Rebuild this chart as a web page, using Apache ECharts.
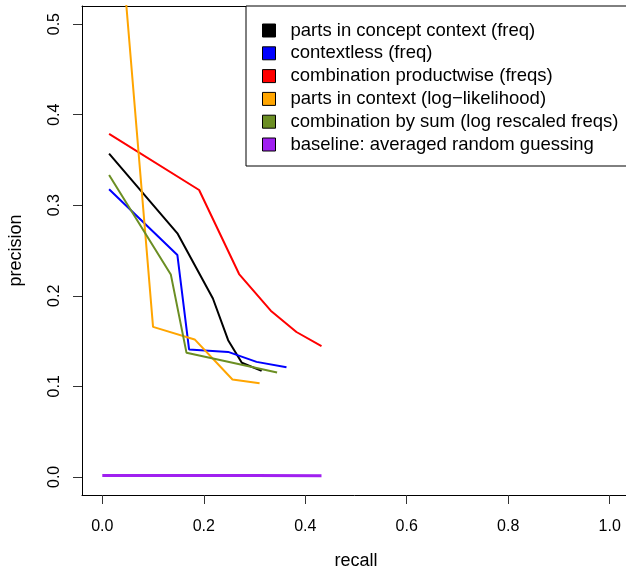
<!DOCTYPE html>
<html>
<head>
<meta charset="utf-8">
<script src="https://cdn.jsdelivr.net/npm/echarts@6/dist/echarts.min.js"></script>
<style>html,body{margin:0;padding:0;background:#fff;}#c{width:626px;height:570px;}</style>
</head>
<body>
<div id="c"></div>
<script>
const seriesNames = [
  'parts in concept context (freq)',
  'contextless (freq)',
  'combination productwise (freqs)',
  'parts in context (log\u2212likelihood)',
  'combination by sum (log rescaled freqs)',
  'baseline: averaged random guessing'
];
const seriesColors = ['#000000', '#0000FF', '#FF0000', '#FFA500', '#6B8E23', '#A020F0'];

const recallBlack = [0.0134, 0.148, 0.218, 0.248, 0.275, 0.314];
const precBlack   = [0.357, 0.269, 0.197, 0.151, 0.126, 0.117];

const recallBlue = [0.0134, 0.148, 0.171, 0.248, 0.304, 0.363];
const precBlue   = [0.3176, 0.245, 0.1408, 0.138, 0.127, 0.121];

const recallRed = [0.0134, 0.1908, 0.2696, 0.332, 0.3826, 0.432];
const precRed   = [0.3787, 0.3168, 0.224, 0.1835, 0.160, 0.1444];

const recallOrange = [0.0134, 0.100, 0.182, 0.2565, 0.310];
const precOrange   = [0.75, 0.1657, 0.1518, 0.1076, 0.1035];

const recallGreen = [0.0134, 0.135, 0.166, 0.25, 0.3445];
const precGreen   = [0.3334, 0.2236, 0.137, 0.1268, 0.1153];

const recallPurple = [0.0, 0.1, 0.2, 0.3, 0.432];
const precPurple   = [0.0015, 0.0015, 0.0015, 0.0014, 0.0013];

const xTicks = [0, 0.2, 0.4, 0.6, 0.8, 1.0];
const yTicks = [0, 0.1, 0.2, 0.3, 0.4, 0.5];

const recalls = [recallBlack, recallBlue, recallRed, recallOrange, recallGreen, recallPurple];
const precs = [precBlack, precBlue, precRed, precOrange, precGreen, precPurple];
const widths = [2, 2, 2, 2, 2, 3];

const FONT = '"Liberation Sans", Arial, Helvetica, sans-serif';

const series = seriesNames.map((name, i) => ({
  name: name,
  type: 'line',
  symbol: 'none',
  animation: false,
  xAxisIndex: 0,
  yAxisIndex: 0,
  data: recalls[i].map((r, j) => [r, precs[i][j]]),
  itemStyle: { color: seriesColors[i] },
  lineStyle: { color: seriesColors[i], width: widths[i] },
  emphasis: { disabled: true },
  clip: true
}));

const chart = echarts.init(document.getElementById('c'), null, { renderer: 'canvas' });
chart.setOption({
  animation: false,
  backgroundColor: '#ffffff',
  textStyle: { fontFamily: FONT },
  grid: {
    left: 82, top: 6, width: 548, height: 489,
    show: false,
    containLabel: false,
    outerBoundsMode: 'none'
  },
  legend: {
    orient: 'vertical',
    left: 246, top: 6,
    padding: [15, 30, 12, 16],
    itemWidth: 13, itemHeight: 13, itemGap: 3.8,
    icon: 'rect',
    borderColor: '#000', borderWidth: 1, borderRadius: 0,
    backgroundColor: '#fff',
    itemStyle: { borderColor: '#000', borderWidth: 1 },
    textStyle: { fontSize: 18.5, lineHeight: 18, color: '#000', fontFamily: FONT, padding: [0, 0, 0, 10] },
    selectedMode: false,
    data: seriesNames
  },
  xAxis: [{
    type: 'value',
    position: 'bottom',
    min: -0.04, max: 1.04,
    name: 'recall', nameLocation: 'middle', nameGap: 57,
    nameTextStyle: { fontSize: 18, color: '#000', fontFamily: FONT },
    axisLine: { show: true, onZero: false, lineStyle: { color: '#000', width: 1 } },
    splitLine: { show: false },
    axisTick: { show: true, inside: false, length: 9, customValues: xTicks, lineStyle: { color: '#333', width: 1 } },
    axisLabel: { customValues: xTicks, fontSize: 16, color: '#000', margin: 24, fontFamily: FONT,
      formatter: v => v.toFixed(1) }
  }, {
    type: 'value',
    position: 'top',
    min: -0.04, max: 1.04,
    axisLine: { show: true, onZero: false, lineStyle: { color: '#000', width: 1 } },
    splitLine: { show: false },
    axisTick: { show: false },
    axisLabel: { show: false }
  }],
  yAxis: {
    type: 'value',
    min: -0.02, max: 0.52,
    name: 'precision', nameLocation: 'middle', nameGap: 57,
    nameTextStyle: { fontSize: 18, color: '#000', fontFamily: FONT },
    axisLine: { show: true, onZero: false, lineStyle: { color: '#000', width: 1 } },
    splitLine: { show: false },
    axisTick: { show: true, inside: false, length: 9, customValues: yTicks, lineStyle: { color: '#333', width: 1 } },
    axisLabel: { customValues: yTicks, fontSize: 16, color: '#000', margin: 19, rotate: 90, fontFamily: FONT,
      formatter: v => v.toFixed(1) }
  },
  series: series
});
</script>
</body>
</html>
